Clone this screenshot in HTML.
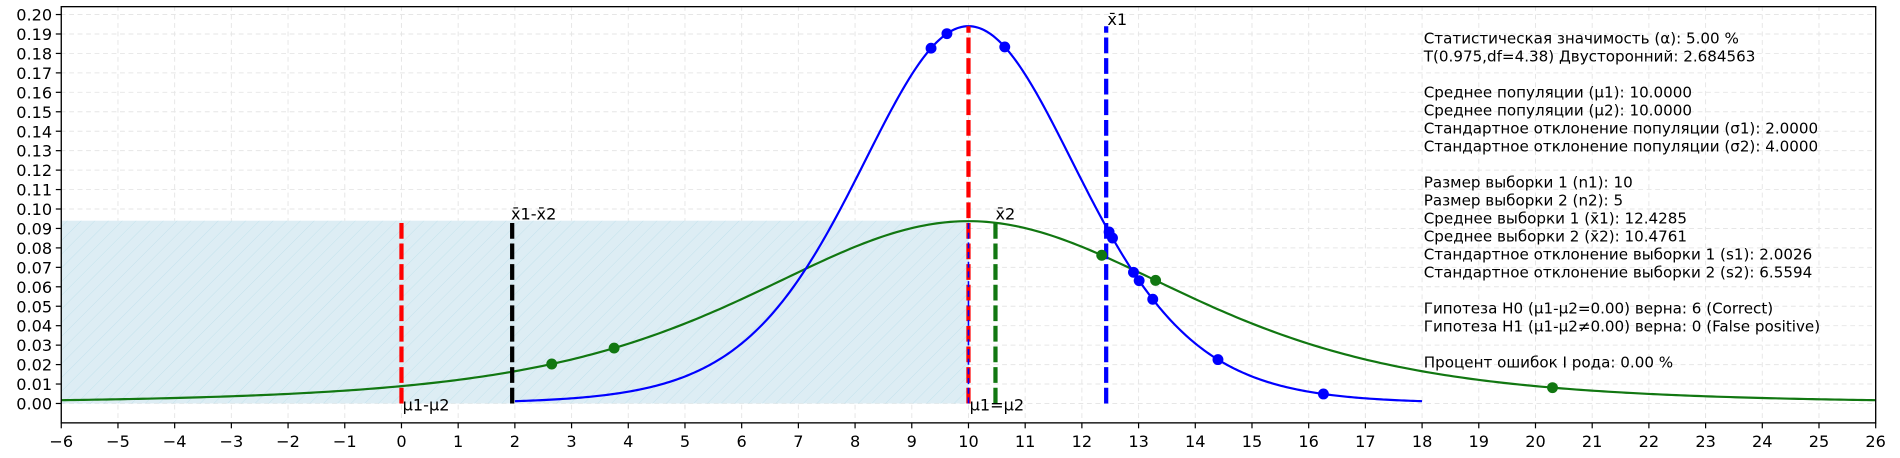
<!DOCTYPE html>
<html><head><meta charset="utf-8"><style>
body{margin:0;background:#fff}
svg{display:block;font-family:"DejaVu Sans","Liberation Sans",sans-serif}
</style></head><body>
<svg id="c" width="1900" height="458" viewBox="0 0 1568 378" xmlns="http://www.w3.org/2000/svg">
<defs><pattern id="hatch" width="8" height="8" patternUnits="userSpaceOnUse" patternTransform="rotate(45)"><rect width="8" height="8" fill="#ddedf4"/><line x1="0" y1="0" x2="0" y2="8" stroke="#c3e2ec" stroke-width="0.8"/></pattern>
<clipPath id="clip"><rect x="50" y="5" width="1498" height="344"/></clipPath></defs>
</svg>
<script>
const xTicks=[-6,-5,-4,-3,-2,-1,0,1,2,3,4,5,6,7,8,9,10,11,12,13,14,15,16,17,18,19,20,21,22,23,24,25,26];
const yTicks=[0,0.01,0.02,0.03,0.04,0.05,0.06,0.07,0.08,0.09,0.10,0.11,0.12,0.13,0.14,0.15,0.16,0.17,0.18,0.19,0.20];
const dist1=[10,2,9,2,18];   // mean, scale, df, xmin, xmax
const dist2=[10,4,4,-6,26];
const sample1=[9.34,9.62,10.64,12.48,12.54,12.91,13.01,13.25,14.4,16.26];
const sample2=[2.65,3.75,12.35,13.3,20.3];
const means=[0,1.9524,10,10.4761,12.4285];
const info=["Статистическая значимость (α): 5.00 %","T(0.975,df=4.38) Двусторонний: 2.684563","","Среднее популяции (μ1): 10.0000","Среднее популяции (μ2): 10.0000","Стандартное отклонение популяции (σ1): 2.0000","Стандартное отклонение популяции (σ2): 4.0000","","Размер выборки 1 (n1): 10","Размер выборки 2 (n2): 5","Среднее выборки 1 (x̄1): 12.4285","Среднее выборки 2 (x̄2): 10.4761","Стандартное отклонение выборки 1 (s1): 2.0026","Стандартное отклонение выборки 2 (s2): 6.5594","","Гипотеза H0 (μ1-μ2=0.00) верна: 6 (Correct)","Гипотеза H1 (μ1-μ2≠0.00) верна: 0 (False positive)","","Процент ошибок I рода: 0.00 %"];
const X=v=>50.5+(v+6)*1497.5/32, Y=v=>333-v*321/0.2;
const svg=document.getElementById('c'),NS="http://www.w3.org/2000/svg";
function el(t,a,p){const e=document.createElementNS(NS,t);for(const k in a)e.setAttribute(k,a[k]);(p||svg).appendChild(e);return e;}
function gamma(z){const c=[676.5203681218851,-1259.1392167224028,771.32342877765313,-176.61502916214059,12.507343278686905,-0.13857109526572012,9.9843695780195716e-6,1.5056327351493116e-7];if(z<0.5)return Math.PI/(Math.sin(Math.PI*z)*gamma(1-z));z-=1;let x=0.99999999999980993;for(let i=0;i<8;i++)x+=c[i]/(z+i+1);const t=z+7.5;return Math.sqrt(2*Math.PI)*Math.pow(t,z+0.5)*Math.exp(-t)*x;}
function tpdf(x,d){const [m,s,df]=d;const t=(x-m)/s;return gamma((df+1)/2)/(Math.sqrt(df*Math.PI)*gamma(df/2))*Math.pow(1+t*t/df,-(df+1)/2)/s;}
const grid=el('g',{});
xTicks.forEach(v=>el('line',{x1:X(v),x2:X(v),y1:5,y2:349,stroke:'#e6e6e6','stroke-dasharray':'4,3','stroke-width':0.8},grid));
yTicks.forEach(v=>el('line',{x1:50,x2:1548,y1:Y(v),y2:Y(v),stroke:'#e6e6e6','stroke-dasharray':'4,3','stroke-width':0.8},grid));
const r=el('rect',{x:X(-6),y:Y(0.094),width:X(10)-X(-6),height:Y(0)-Y(0.094),fill:'url(#hatch)'});

const clip=el('g',{'clip-path':'url(#clip)'});
function curve(d,color,name){let p='';const n=400;for(let i=0;i<=n;i++){const x=d[3]+(d[4]-d[3])*i/n;p+=(i?'L':'M')+X(x).toFixed(2)+','+Y(tpdf(x,d)).toFixed(2);}
const e=el('path',{d:p,fill:'none',stroke:color,'stroke-width':1.8},clip);}
curve(dist2,'#117711','curve-sample-2');
curve(dist1,'#0000ff','curve-sample-1');
function vline(x,top,color,w,dash,name){const e=el('line',{x1:X(x),x2:X(x),y1:Y(0),y2:Y(top),stroke:color,'stroke-width':w,'stroke-dasharray':dash});}
vline(means[0],0.094,'#ff0000',3.5,'13,4','line-mu-diff');
vline(means[1],0.094,'#000',3.5,'13,4','line-xbar-diff');
vline(means[2],0.194,'#ff0000',3.5,'13,4','line-mu-equal');
vline(means[2],0.094,'#0000ff',1.3,'5,3','line-mu-equal-inner');
vline(means[3],0.094,'#117711',3.5,'13,4','line-xbar2');
vline(means[4],0.194,'#0000ff',3.5,'13,4','line-xbar1');
sample1.forEach(x=>{const e=el('circle',{cx:X(x),cy:Y(tpdf(x,dist1)),r:4.5,fill:'#0000ff'});});
sample2.forEach(x=>{const e=el('circle',{cx:X(x),cy:Y(tpdf(x,dist2)),r:4.5,fill:'#117711'});});
function lab(x,y,t,name){const e=el('text',{x:x,y:y,'font-size':13.3,fill:'#000'});e.textContent=t;}
lab(X(means[0])+1,Y(0)+6,'μ1-μ2','label-mu-diff');
lab(X(means[2])+1,Y(0)+6,'μ1=μ2','label-mu-equal');
lab(X(means[1])-1,Y(0.094)-1,'x̄1-x̄2','label-xbar-diff');
lab(X(means[3]),Y(0.094)-1,'x̄2','label-xbar2');
lab(X(means[4])+1,Y(0.194)-1,'x̄1','label-xbar1');
const ax=el('g',{});
el('rect',{x:50.5,y:5.5,width:1497.5,height:343.5,fill:'none',stroke:'#000','stroke-width':1.1},ax);
xTicks.forEach(v=>{el('line',{x1:X(v),x2:X(v),y1:349,y2:353.5,stroke:'#000','stroke-width':1},ax);const t=el('text',{x:X(v),y:369,'text-anchor':'middle','font-size':13.3},ax);t.textContent=(v<0?'−'+(-v):v);});
yTicks.forEach(v=>{el('line',{x1:46,x2:50.5,y1:Y(v),y2:Y(v),stroke:'#000','stroke-width':1},ax);const t=el('text',{x:43,y:Y(v)+5,'text-anchor':'end','font-size':13.3},ax);t.textContent=v.toFixed(2);});
const ig=el('g',{});
info.forEach((s,i)=>{if(!s)return;const t=el('text',{x:1175,y:36+i*14.85,'font-size':12.5},ig);t.textContent=s;});
</script>
</body></html>
